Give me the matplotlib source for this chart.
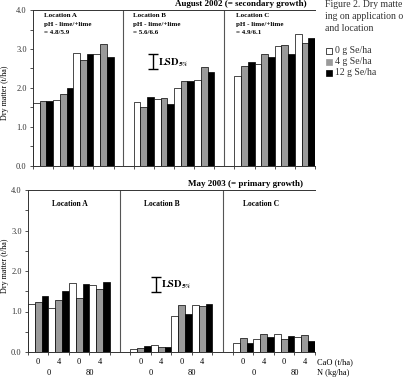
import matplotlib
matplotlib.use("Agg")
import numpy as np
import matplotlib.pyplot as plt
from matplotlib.lines import Line2D

plt.rcParams["font.family"] = ["Liberation Serif", "DejaVu Serif"]
plt.rcParams["mathtext.fontset"] = "stix"

# ── data (t/ha), rows = N/CaO treatment, cols = Se 0 / 4 / 12 g/ha ─────────
# treatment order: N0+CaO0, N0+CaO4, N80+CaO0, N80+CaO4
se_levels = ["0 g Se/ha", "4 g Se/ha", "12 g Se/ha"]
se_colors = ["white", "#9a9a9a", "black"]
cao_labels = ["0", "4", "0", "4"]
n_labels = ["0", "80"]

aug_locations = ["Location A", "Location B", "Location C"]
aug_ph = ["= 4.8/5.9", "= 5.6/6.6", "= 4.9/6.1"]
aug_A = [[1.62, 1.66, 1.66], [1.69, 1.84, 2.00], [2.90, 2.73, 2.88], [2.86, 3.13, 2.80]]
aug_B = [[1.63, 1.52, 1.77], [1.71, 1.74, 1.59], [1.99, 2.19, 2.19], [2.20, 2.53, 2.40]]
aug_C = [[2.31, 2.57, 2.66], [2.61, 2.87, 2.79], [3.08, 3.10, 2.86], [3.38, 3.15, 3.28]]
aug_lsd = 0.39

may_A = [[1.18, 1.23, 1.38], [1.08, 1.29, 1.51], [1.70, 1.34, 1.68], [1.66, 1.56, 1.74]]
may_B = [[0.07, 0.10, 0.14], [0.17, 0.13, 0.13], [0.88, 1.17, 0.95], [1.17, 1.13, 1.19]]
may_C = [[0.23, 0.34, 0.22], [0.32, 0.45, 0.36], [0.45, 0.32, 0.40], [0.36, 0.41, 0.26]]
may_lsd = 0.37

LOC_START = [0, 15, 30]
DIVIDERS = [13.4, 28.5]


def draw_bars(ax, loc_data):
    for li, data in enumerate(loc_data):
        data = np.asarray(data)
        for g in range(data.shape[0]):
            for s in range(data.shape[1]):
                ax.bar(LOC_START[li] + g * 3 + s, data[g, s], width=1.0, align="edge",
                       color=se_colors[s], edgecolor="black", linewidth=0.5, zorder=3)


def style_axis(ax):
    ax.set_xlim(0, 42)
    ax.set_ylim(0, 4)
    for side in ["top", "left", "bottom"]:
        ax.spines[side].set_linewidth(0.7)
        ax.spines[side].set_color("#333333")
    ax.spines["right"].set_visible(False)
    for xv in DIVIDERS:
        ax.axvline(xv, color="#555555", lw=0.8, zorder=2)
    ax.set_yticks(np.arange(0, 4.01, 1.0))
    ax.set_yticklabels([f"{v:.1f}" for v in np.arange(0, 4.01, 1.0)])
    ax.set_yticks(np.arange(0.5, 4.0, 1.0), minor=True)
    xt = [st + k * 3 for st in LOC_START for k in range(5)]
    ax.set_xticks(xt)
    ax.set_xticklabels([])
    ax.tick_params(axis="both", which="both", direction="out", length=2.5,
                   width=0.6, labelsize=6, pad=2, colors="#333333")
    ax.set_ylabel("Dry matter (t/ha)", fontsize=5.8)


fig = plt.figure(figsize=(4.05, 3.78), dpi=100, facecolor="white")
W, H = 405.0, 378.0

# ═════════ top panel: August 2002 ═════════
ax1 = fig.add_axes([33 / W, 1 - 166 / H, 282 / W, 156 / H])
draw_bars(ax1, [aug_A, aug_B, aug_C])
style_axis(ax1)
ax1.yaxis.set_label_coords(-0.085, 0.47)

txt_x = [1.7, 14.9, 30.3]
for li in range(3):
    ax1.text(txt_x[li], 3.85, aug_locations[li], fontsize=5, fontweight="bold", va="center")
    ax1.text(txt_x[li], 3.63, "pH - lime/+lime", fontsize=5, fontweight="bold", va="center")
    ax1.text(txt_x[li], 3.42, aug_ph[li], fontsize=5, fontweight="bold", va="center")

ax1.errorbar(17.9, 2.68, yerr=aug_lsd / 2, color="black", lw=1.0, capsize=3.5,
             capthick=1.0, zorder=4)
ax1.text(18.6, 2.66, r"$\mathbf{LSD}_{\mathbf{5\%}}$", fontsize=7.5, va="center")

fig.text(241 / W, 1 - 4.5 / H, "August 2002 (= secondary growth)", ha="center",
         va="center", fontsize=6.5, fontweight="bold")

# ═════════ bottom panel: May 2003 ═════════
ax2 = fig.add_axes([28 / W, 1 - 352 / H, 287 / W, 162 / H])
draw_bars(ax2, [may_A, may_B, may_C])
style_axis(ax2)
ax2.yaxis.set_label_coords(-0.065, 0.53)

may_txt_x = [6.1, 19.6, 34.1]
for li in range(3):
    ax2.text(may_txt_x[li], 3.66, aug_locations[li], fontsize=5.5, fontweight="bold",
             ha="center", va="center")

ax2.errorbar(18.8, 1.67, yerr=may_lsd / 2, color="black", lw=1.0, capsize=3.5,
             capthick=1.0, zorder=4)
ax2.text(19.5, 1.65, r"$\mathbf{LSD}_{\mathbf{5\%}}$", fontsize=7.5, va="center")

fig.text(246 / W, 1 - 184 / H, "May 2003 (= primary growth)", ha="center",
         va="center", fontsize=6.5, fontweight="bold")

# x labels under the bottom panel
trans = ax2.get_xaxis_transform()
for st in LOC_START:
    for g in range(4):
        ax2.text(st + g * 3 + 1.5, -0.062, cao_labels[g], transform=trans,
                 fontsize=6, ha="center", va="center")
    for k in range(2):
        ax2.text(st + k * 6 + 3, -0.13, n_labels[k], transform=trans,
                 fontsize=6, ha="center", va="center")
ax2.text(42.3, -0.062, "CaO (t/ha)", transform=trans, fontsize=6, ha="left", va="center")
ax2.text(42.3, -0.13, "N (kg/ha)", transform=trans, fontsize=6, ha="left", va="center")

# ═════════ caption + legend (right side) ═════════
cap_lines = ["Figure 2. Dry matte", "ing on application o", "and location"]
for i, line in enumerate(cap_lines):
    fig.text(325 / W, 1 - (4.5 + i * 11.8) / H, line, fontsize=7, va="center",
             color="#333333")

for i, lab in enumerate(se_levels):
    yy = 1 - (50.5 + i * 11.2) / H
    fig.add_artist(Line2D([329 / W], [yy], marker="s", markersize=4.2,
                          markerfacecolor=se_colors[i],
                          markeredgecolor="black" if i != 1 else se_colors[i],
                          markeredgewidth=0.5, transform=fig.transFigure))
    fig.text(335 / W, yy, lab, fontsize=7, va="center", color="#333333")

fig.savefig("out.png", dpi=100)
